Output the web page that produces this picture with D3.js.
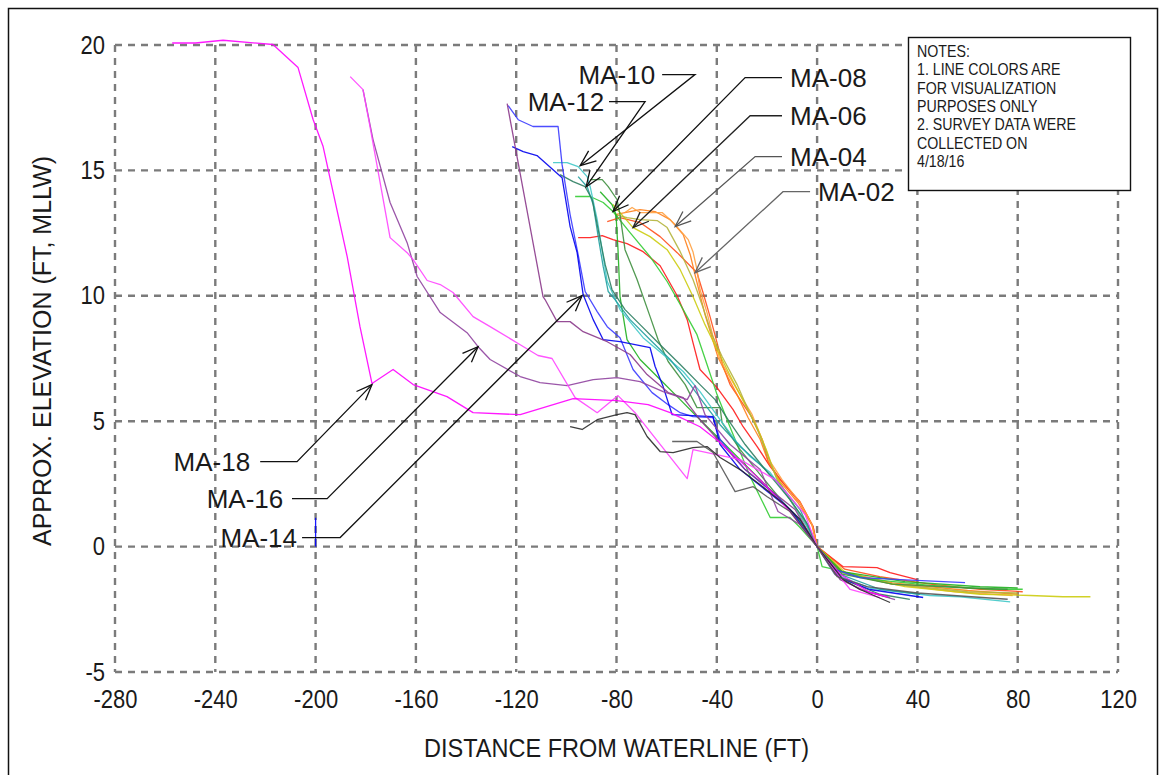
<!DOCTYPE html>
<html><head><meta charset="utf-8">
<script src="https://cdn.jsdelivr.net/npm/d3@7"></script>
<style>
body{margin:0;background:#fff}
svg{display:block}
text{font-family:"Liberation Sans",Arial,sans-serif;fill:#1a1a1a}
</style>
</head><body>
<svg id="chart" width="1160" height="775"></svg>
<script>
// ---------- tick labels ----------
const xTicks = [-280,-240,-200,-160,-120,-80,-40,0,40,80,120];
const yTicks = [-5,0,5,10,15,20];

// ---------- survey profiles (distance ft, elevation ft MLLW) ----------
const ma01 = [[-95.3,12.32],[-90.5,12.32],[-85.7,12.40],[-81.4,12.24],[-75.8,12.08],[-69.4,11.76],[-62.6,11.2],[-55.8,10.0],[-51.8,9.05],[-49.5,8.13],[-46.7,7.06],[-39.9,6.34],[-33.5,5.46],[-29.5,4.78],[-23.9,3.99],[-18.7,3.19],[-13.6,2.55],[-6.8,1.75],[-1.6,0.80],[0,0],[10.4,-0.80],[23.9,-0.84],[29.1,-1.04],[39.9,-1.32]];
const ma02 = [[-83.7,12.96],[-78.6,13.12],[-70.6,12.92],[-62.6,12.36],[-55.8,11.72],[-47.9,10.92],[-45.5,10.13],[-42.7,9.17],[-39.9,8.13],[-37.5,7.18],[-34.7,6.46],[-30.7,5.86],[-25.9,5.14],[-21.9,4.27],[-19.5,3.39],[-14.8,2.67],[-6.8,1.79],[-1.6,0.80],[0,0],[11,-0.9],[25,-1.2],[45,-1.5],[65,-1.7],[82,-1.8]];
const ma03 = [[-80.6,13.24],[-70.6,13.44],[-64.6,13.36],[-58.6,13.04],[-53.4,12.44],[-50.6,11.64],[-48.7,10.85],[-46.7,10.05],[-44.7,9.25],[-41.9,8.33],[-39.5,7.54],[-35.5,6.74],[-31.9,6.06],[-27.5,5.14],[-22.7,4.27],[-19.5,3.39],[-14.8,2.59],[-7.6,1.75],[-2.0,0.84],[0,0],[10,-1.0],[30,-1.45],[60,-1.75],[80,-1.9]];
const ma04 = [[-76.6,13.32],[-73.8,13.52],[-70.6,13.32],[-61.8,13.32],[-56.6,12.84],[-51.4,12.24],[-49.5,11.76],[-47.9,11.04],[-46.7,10.25],[-43.9,9.33],[-41.5,8.37],[-38.7,7.46],[-34.7,6.74],[-30.7,6.06],[-25.9,5.26],[-21.9,4.27],[-18.7,3.39],[-14.0,2.67],[-6.8,1.75],[-2.0,0.88],[0,0],[10,-1.0],[30,-1.5],[55,-1.8],[78,-1.95]];
const ma05 = [[-81.4,13.64],[-73.4,12.72],[-66.6,12.36],[-59.8,11.84],[-54.6,11.04],[-49.5,9.97],[-44.7,8.85],[-39.5,7.78],[-33.9,6.66],[-28.7,5.66],[-23.9,4.74],[-20.3,3.87],[-16.7,2.87],[-10.8,1.87],[-4.4,0.88],[0,0],[12,-1.1],[35,-1.6],[65,-1.9],[85,-1.95],[98,-2.0],[109,-2.0]];
const ma06 = [[-80.6,13.24],[-75.8,13.12],[-70.6,13.04],[-63.8,13.00],[-59.8,12.72],[-54.6,11.76],[-49.5,10.65],[-45.5,9.53],[-41.9,8.45],[-37.9,7.58],[-31.9,6.46],[-27.5,5.46],[-23.5,4.59],[-19.9,3.67],[-16.0,2.67],[-10.0,1.75],[-3.6,0.80],[0,0],[10,-1.05],[30,-1.5],[60,-1.8],[80,-1.85]];
const ma07 = [[-96.5,13.96],[-90.5,13.96],[-85.3,13.72],[-81.4,13.36],[-74.6,12.52],[-66.6,11.56],[-59.8,10.57],[-53.4,9.45],[-47.9,8.45],[-43.9,7.26],[-39.9,6.06],[-35.9,5.06],[-32.7,4.27],[-26.7,2.79],[-18.7,1.16],[-10.8,1.16],[-6.8,0.76],[0,0],[2,-0.8],[6.5,-0.9],[21,-1.3],[45,-1.55],[70,-1.7],[82,-1.7]];
const ma08 = [[-90.5,14.63],[-85.7,14.63],[-83.3,14.35],[-79.8,13.84],[-78.6,13.24],[-76.6,11.84],[-71.8,10.65],[-66.6,9.17],[-63.4,8.25],[-59.4,7.38],[-52.6,6.46],[-47.9,5.54],[-38.7,5.54],[-37.9,4.94],[-30.7,3.87],[-22.7,2.87],[-12.8,1.67],[-4.8,0.76],[0,0],[10,-1.1],[30,-1.5],[60,-1.65],[76,-1.7]];
const ma09 = [[-86.5,14.15],[-81.8,13.64],[-80.2,13.24],[-79.4,11.84],[-78.6,9.97],[-75.8,8.25],[-70.6,7.46],[-62.6,6.66],[-54.6,5.86],[-46.7,5.06],[-38.7,4.27],[-28.7,3.27],[-18.7,2.27],[-8.8,1.28],[0,0],[10,-1.0],[35,-1.4],[65,-1.6],[80,-1.65]];
const ma10 = [[-105.3,15.31],[-99.7,15.31],[-95.3,15.15],[-91.7,14.75],[-90.5,14.35],[-87.7,13.04],[-85.3,11.56],[-83.7,10.57],[-78.6,9.45],[-69.4,8.33],[-61.4,7.66],[-53.4,6.98],[-46.7,6.18],[-38.7,5.06],[-31.9,4.15],[-26.7,3.59],[-18.7,2.95],[-10.8,1.87],[-4.0,0.80],[0,0],[7,-1.1],[21,-1.65],[45,-1.95],[57,-2.0],[77,-2.2]];
const ma11 = [[-95.3,14.75],[-91.7,14.35],[-89.3,13.64],[-87.3,12.36],[-85.3,11.16],[-83.3,10.17],[-80.6,9.85],[-74.6,9.05],[-66.6,8.25],[-58.6,7.46],[-50.6,6.46],[-44.7,5.66],[-38.7,4.86],[-30.7,3.99],[-22.7,3.27],[-14.8,2.47],[-6.8,1.48],[0,0],[9,-1.1],[25,-1.7],[41,-1.9]];
const ma12 = [[-102.5,14.83],[-97.3,14.55],[-92.5,14.35],[-89.7,13.84],[-87.3,12.64],[-84.5,11.24],[-81.8,10.25],[-76.6,9.45],[-70.6,8.85],[-62.6,8.05],[-54.6,7.26],[-46.7,6.46],[-40.7,5.86],[-35.5,5.06],[-28.7,4.07],[-20.7,3.07],[-10.8,1.87],[-3.6,0.88],[0,0],[9,-1.25],[25,-1.9],[37,-2.1]];
const ma13 = [[-123.2,17.58],[-119.2,17.02],[-113.3,16.75],[-103.3,16.75],[-101.7,15.23],[-98.5,13.24],[-95.3,11.64],[-92.5,10.17],[-87.7,9.37],[-83.7,8.77],[-78.6,8.33],[-73.4,7.06],[-65.8,6.14],[-59.4,5.66],[-54.6,5.34],[-49.5,5.18],[-41.5,5.14],[-38.7,4.27],[-28.7,3.07],[-16.7,2.07],[-6.8,1.08],[0,0],[7.2,-0.92],[17.1,-1.24],[33.1,-1.32],[59.0,-1.44]];
const ma14 = [[-121.6,15.95],[-117.2,15.75],[-111.7,15.59],[-101.7,14.71],[-98.5,12.76],[-95.7,11.72],[-93.3,10.05],[-89.3,9.05],[-85.3,8.25],[-78.6,8.17],[-66.6,7.93],[-64.6,7.18],[-61.4,6.38],[-57.8,5.26],[-41.5,5.18],[-38.7,4.07],[-30.7,3.07],[-20.7,2.27],[-10.8,1.48],[0,0],[9.2,-1.24],[21.1,-1.71],[42.3,-2.03]];
const ma14b = [[-200,1.15],[-200,0.0]];
const ma15 = [[-123.6,17.66],[-109.3,9.97],[-108.5,9.85],[-103.7,8.97],[-98.5,8.97],[-93.3,8.57],[-83.7,8.17],[-74.6,7.66],[-67.8,6.86],[-59.4,6.14],[-53.4,5.94],[-46.7,5.06],[-28.7,3.07],[-18.7,2.27],[-8.8,1.48],[0,0],[9.2,-1.32],[20,-1.8],[29,-2.03]];
const ma16 = [[-181.1,18.22],[-177.1,16.23],[-170.3,13.72],[-163.5,12.12],[-159.5,10.77],[-150.3,9.33],[-139.6,8.53],[-135.2,7.97],[-130.4,7.46],[-118.4,6.78],[-110.5,6.54],[-99.7,6.42],[-89.3,6.66],[-79.8,6.74],[-70.6,6.58],[-61.4,6.18],[-51.8,5.86],[-48.7,6.42],[-44.7,5.26],[-34.7,4.07],[-22.7,3.07],[-15.6,1.40],[-6.8,0.88],[0,0],[7.2,-1.12],[17.1,-1.71],[31.1,-2.11]];
const ma17 = [[-186.2,18.74],[-181.1,18.22],[-178.3,16.75],[-170.3,12.32],[-163.5,11.72],[-161.1,11.44],[-155.5,10.61],[-150.3,10.45],[-145.2,10.13],[-137.2,9.17],[-130.4,8.77],[-118.4,8.05],[-111.3,7.62],[-105.7,7.50],[-96.5,5.94],[-87.7,5.34],[-79.4,6.02],[-72.6,5.34],[-51.8,2.71],[-49.5,3.87],[-30.7,3.47],[-16.7,2.67],[-4.8,1.28],[0,0],[5.2,-0.72],[13.2,-1.71],[25.1,-2.03]];
const ma18 = [[-257.2,20.08],[-247.9,20.08],[-236.9,20.19],[-217.0,20.02],[-207.0,19.10],[-201.0,17.03],[-197.0,15.95],[-187.4,11.56],[-182.3,8.77],[-177.5,6.50],[-169.1,7.06],[-161.1,6.46],[-147.6,5.98],[-137.2,5.34],[-118.4,5.26],[-97.3,5.90],[-79.8,5.82],[-67.4,5.66],[-58.6,5.34],[-46.7,4.78],[-38.7,4.15],[-22.7,2.67],[-10.8,1.40],[0,0],[9.2,-1.1],[21.1,-1.83],[28,-2.0]];
const maBlackA = [[-98.5,4.78],[-93.7,4.67],[-87.7,5.06],[-79.8,5.26],[-75.8,5.34],[-72.6,5.26],[-67.8,4.39],[-62.6,3.79],[-57.4,3.75],[-49.5,3.95],[-43.9,3.99],[-38.7,3.55],[-30.7,3.07],[-22.7,2.47],[-12.8,1.67],[-6.8,1.08],[0,0],[10.4,-1.32],[17.1,-1.71],[29.1,-2.23]];
const maBlackB = [[-57.8,4.19],[-47.9,4.19],[-41.5,3.75],[-32.7,2.19],[-25.5,2.39],[-19.9,1.99],[-10.8,1.40],[0,0],[8,-1.2],[20,-1.6],[40,-1.85],[76,-2.1]];

const profileData   = [ma01, ma02, ma03, ma04, ma05, ma06, ma07, ma08, ma09, ma10, ma11, ma12, ma13, ma14, ma14b, ma15, ma16, ma17, ma18, maBlackA, maBlackB];
const profileColors = ["#ff1a1a","#ff4d1a","#ff7f1a","#ffa040","#cccc10","#b4b43c","#33cc33","#3f8f3f","#1fb01f","#40c8c8","#20a0a0","#2e7e62","#3a3aff","#0000ee","#0000ff","#8b3a8b","#9044a0","#ff44ff","#ff00ff","#2a2a2a","#555555"];

// ---------- annotations (data coordinates) ----------
const annLabels  = ["MA-10","MA-08","MA-12","MA-06","MA-04","MA-02","MA-18","MA-16","MA-14"];
const annTextX   = [-64.6,-10.8,-84.9,-10.8,-10.8,0.4,-226.1,-212.9,-207.4];
const annAnchor  = ["end","start","end","start","start","start","end","end","end"];
const annY       = [18.82,18.70,17.74,17.18,15.55,14.15,3.39,1.91,0.36];
const annLineX   = [-61.8,-14.0,-83.0,-14.0,-14.0,-2.8,-222.1,-209.4,-205.4];
const annElbowX  = [-48.7,-28.7,-68.6,-26.7,-24.7,-13.6,-207.4,-195.4,-190.2];
const annTipX    = [-94.5,-81.4,-92.1,-73.4,-56.6,-48.7,-177.5,-135.2,-93.7];
const annTipY    = [15.19,13.36,14.35,12.72,12.76,10.92,6.46,7.97,10.01];
const annColors  = ["#111","#111","#111","#222","#555","#666","#111","#111","#111"];

const notesLines = ["NOTES:","1. LINE COLORS ARE","FOR VISUALIZATION","PURPOSES ONLY","2. SURVEY DATA WERE","COLLECTED ON","4/18/16"];

// ---------- drawing ----------
const svg = d3.select("#chart");
const x = d3.scaleLinear().domain([-280,120]).range([115,1118]);
const y = d3.scaleLinear().domain([-5,20]).range([672,45]);

// squeeze text horizontally to imitate the narrow (Calibri-like) face of the source
function condense(sel, f){
  sel.each(function(){
    const w = this.getComputedTextLength();
    d3.select(this).attr("textLength", w*f).attr("lengthAdjust","spacingAndGlyphs");
  });
}

// outer frame
svg.append("rect").attr("x",8.5).attr("y",8.5).attr("width",1149).attr("height",800)
  .attr("fill","none").attr("stroke","#111").attr("stroke-width",1.5);

// grid
const grid = svg.append("g").attr("stroke","#7b7b7b").attr("stroke-width",2.4).attr("stroke-dasharray","7,6");
grid.selectAll("line.v").data(xTicks).join("line")
  .attr("x1",d=>x(d)).attr("x2",d=>x(d)).attr("y1",y(20)).attr("y2",y(-5));
grid.selectAll("line.h").data(yTicks).join("line")
  .attr("y1",d=>y(d)).attr("y2",d=>y(d)).attr("x1",x(-280)).attr("x2",x(120));

// axes labels via d3 axes (lines hidden); plain hyphen minus as in the source
const fmt = d => String(d);
const xAxis = svg.append("g").attr("transform",`translate(0,${y(-5)})`)
  .call(d3.axisBottom(x).tickValues(xTicks).tickSize(0).tickPadding(18).tickFormat(fmt));
const yAxis = svg.append("g").attr("transform",`translate(${x(-280)},0)`)
  .call(d3.axisLeft(y).tickValues(yTicks).tickSize(0).tickPadding(10).tickFormat(fmt));
[xAxis,yAxis].forEach(a=>{a.select(".domain").remove();
  a.selectAll("text").attr("font-size",25).attr("fill","#1a1a1a").attr("font-family","Liberation Sans, Arial, sans-serif");
  condense(a.selectAll("text"),0.88);});

const xt = svg.append("text").attr("x",(x(-280)+x(120))/2).attr("y",757).attr("text-anchor","middle")
  .attr("font-size",25.5).text("DISTANCE FROM WATERLINE (FT)");
xt.attr("textLength",385).attr("lengthAdjust","spacingAndGlyphs");
const yt = svg.append("text").attr("transform",`translate(51,351) rotate(-90)`).attr("text-anchor","middle")
  .attr("font-size",25.5).text("APPROX. ELEVATION (FT, MLLW)");
yt.attr("textLength",390).attr("lengthAdjust","spacingAndGlyphs");

// profiles
const line = d3.line().x(d=>x(d[0])).y(d=>y(d[1]));
svg.append("g").selectAll("path").data(profileData).join("path")
  .attr("d",line).attr("fill","none")
  .attr("stroke",(d,i)=>profileColors[i]).attr("stroke-width",1.3)
  .attr("stroke-opacity",0.9).attr("stroke-linejoin","round");

// annotations
const ann = svg.append("g");
annLabels.forEach((lab,i)=>{
  const c = annColors[i];
  const yy = y(annY[i]);
  const ex = x(annElbowX[i]), tx = x(annTipX[i]), ty = y(annTipY[i]);
  ann.append("path").attr("d",`M${x(annLineX[i])},${yy}L${ex},${yy}L${tx},${ty}`)
    .attr("fill","none").attr("stroke",c).attr("stroke-width",1.3);
  const ang = Math.atan2(yy-ty, ex-tx);
  const L = 17, spread = 0.38;
  const p1 = [tx+L*Math.cos(ang+spread), ty+L*Math.sin(ang+spread)];
  const p2 = [tx+L*Math.cos(ang-spread), ty+L*Math.sin(ang-spread)];
  ann.append("path").attr("d",`M${p1[0]},${p1[1]}L${tx},${ty}L${p2[0]},${p2[1]}`)
    .attr("fill","none").attr("stroke",c).attr("stroke-width",1.3);
  ann.append("text").attr("x",x(annTextX[i])).attr("y",yy).attr("dy","0.36em")
    .attr("text-anchor",annAnchor[i]).attr("font-size",26).attr("fill","#222").text(lab);
});

// notes box
const nb = svg.append("g");
nb.append("rect").attr("x",908.5).attr("y",37.5).attr("width",222).attr("height",153)
  .attr("fill","#fff").attr("stroke","#111").attr("stroke-width",1.4);
const nt = nb.selectAll("text").data(notesLines).join("text")
  .attr("x",917).attr("y",(d,i)=>57+i*18.3).attr("font-size",16.5).text(d=>d);
condense(nt,0.86);
</script>
</body></html>
